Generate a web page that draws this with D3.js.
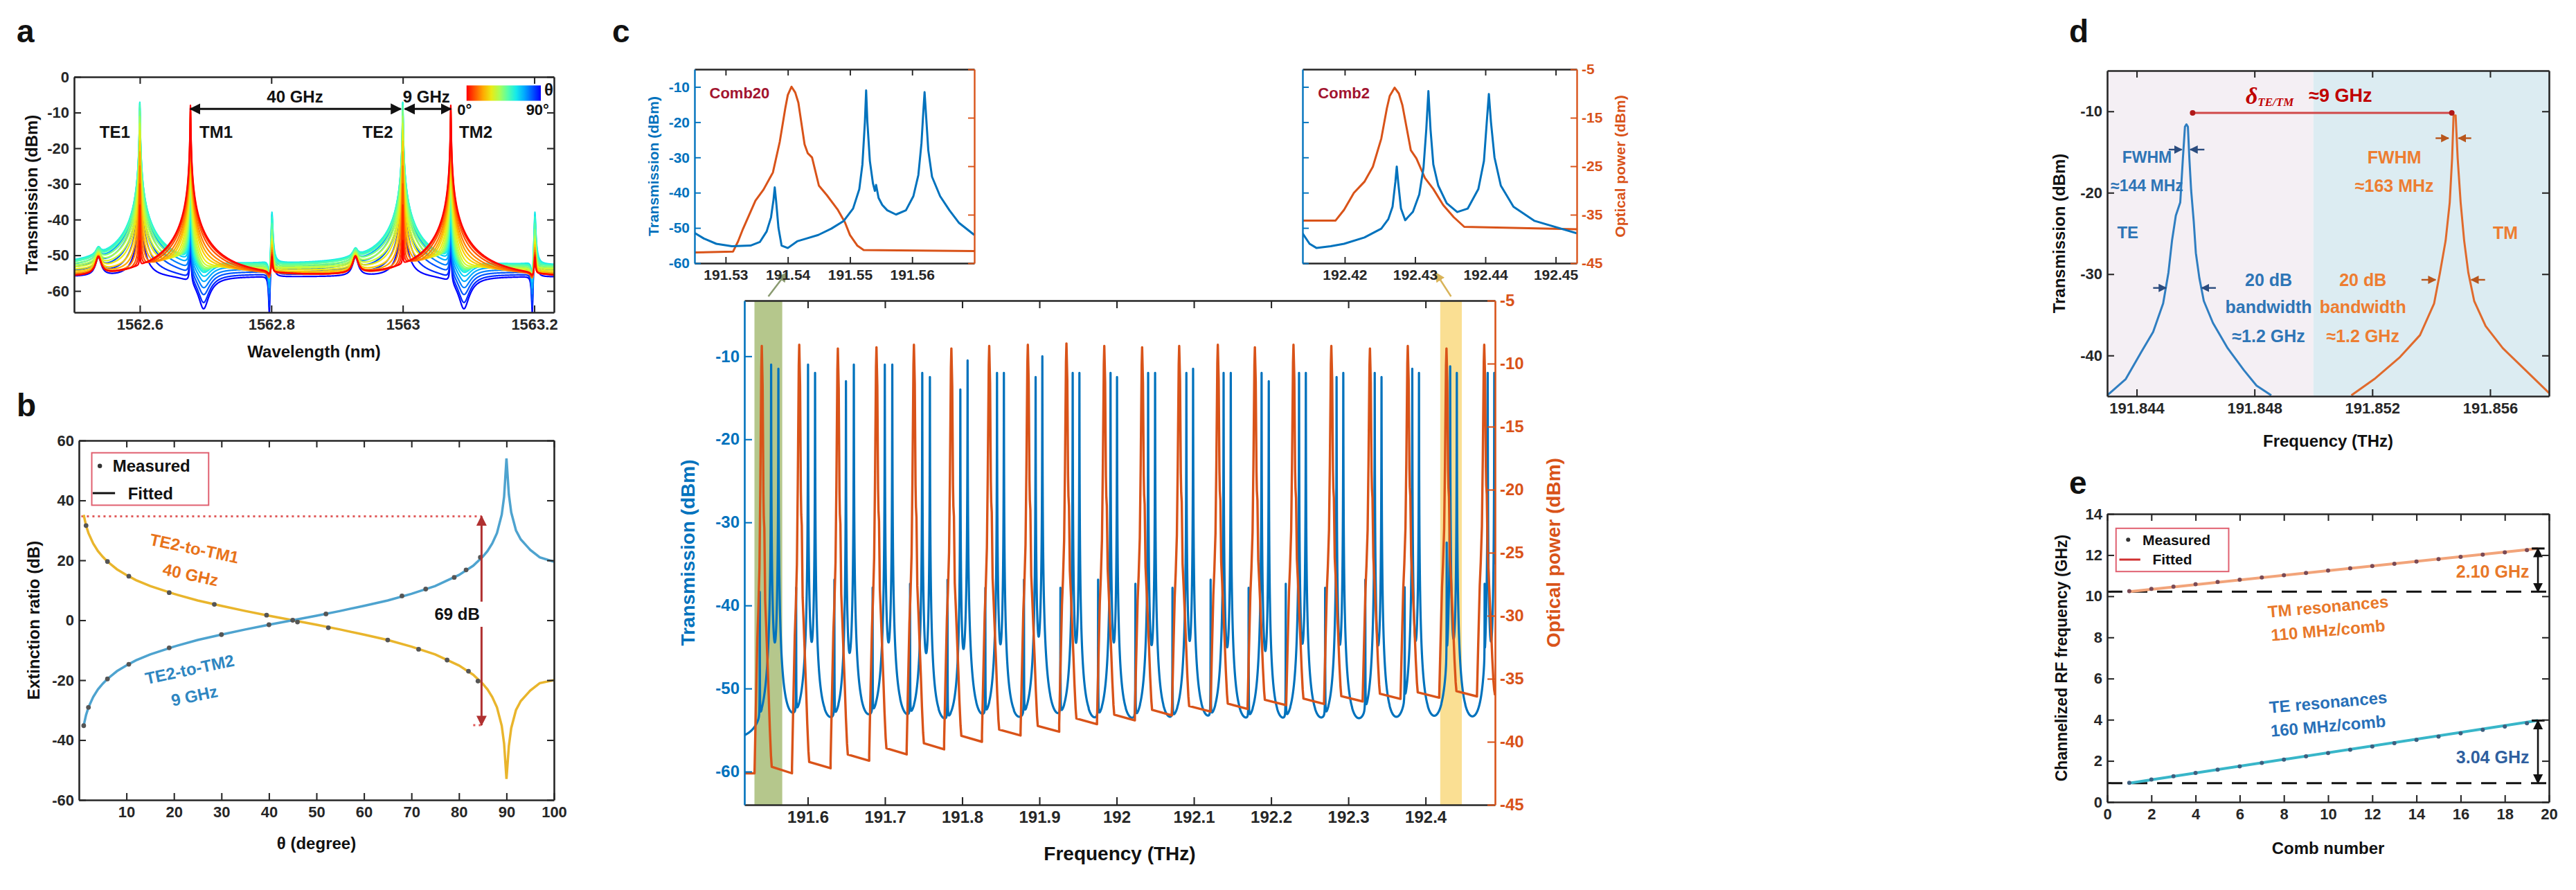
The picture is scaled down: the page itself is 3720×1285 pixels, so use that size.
<!DOCTYPE html>
<html>
<head>
<meta charset="utf-8">
<script src="https://cdn.jsdelivr.net/npm/d3@7/dist/d3.min.js"></script>
<style>
html,body{margin:0;padding:0;background:#ffffff;}
svg{display:block;}
</style>
</head>
<body>
<svg id="fig" width="3720" height="1285" xmlns="http://www.w3.org/2000/svg"></svg>
<script>
// ================= DATA =================
// ---- panel a : polarisation-angle sweep (resonance parameters)
const aTheta   = [0,5,10,15,20,25,30,35,40,45,50,55,60,65,70,75,80,85,90];
const aTEpeak  = [-47,-36,-30,-25,-21,-18,-15,-13,-11,-9.5,-8,-7.2,-7,-7.3,-8.5,-10.5,-13,-17,-22];
const aTMpeak  = [-8,-8.5,-9.5,-11,-12.5,-14,-16,-18,-20,-22,-24,-26,-28,-30,-32,-34,-36,-38,-40];
const aFloor   = [-57,-56.8,-56.5,-56,-55.5,-55,-54.5,-54,-53.8,-53.5,-53.3,-53.2,-53,-53.5,-54,-54.5,-55,-55.5,-56];
const aTMdip   = [0,0.05,0.1,0.15,0.2,0.25,0.3,0.35,0.4,0.45,0.5,0.55,0.6,0.65,0.7,0.75,0.8,0.85,0.88];
const aFanoPk  = [-52,-51,-50,-49,-48,-47,-46,-45,-44,-42,-40,-38,-36.5,-37,-38,-39,-40,-41,-42];
const aFanoDip = [0.2,0.25,0.3,0.35,0.4,0.45,0.5,0.55,0.6,0.65,0.7,0.75,0.8,0.85,0.88,0.9,0.92,0.94,0.95];
const aTEwl    = [1562.600, 1563.000];
const aTMwl    = [1562.677, 1563.073];
const aFanoWl  = [1562.801, 1563.201];
const aBumpWl  = [1562.537, 1562.928];
const aXTicks  = [1562.6, 1562.8, 1563, 1563.2];
const aYTicks  = [0,-10,-20,-30,-40,-50,-60];

// ---- panel b : extinction ratio vs theta
const bFitTheta = [1,1.5,2,3,4,5,6,8,10,12,15,20,25,30,35,40,45,50,55,60,65,70,75,80,83,85,86,87,88,89,89.5,90,90.5,91,92,93,95,97,100];
const bFitTM2   = [-35.2,-31.6,-29.1,-25.6,-23.1,-21.2,-19.6,-17.0,-15.1,-13.4,-11.4,-8.8,-6.6,-4.8,-3.1,-1.5,0,1.5,3.1,4.8,6.6,8.8,11.4,15.1,18.2,21.2,23.1,25.6,29.1,35.2,41.2,54,42,36,30,27,23.5,21,19.5];
const bFitTM1   = [35.2,31.6,29.1,25.6,23.1,21.2,19.6,17.0,15.1,13.4,11.4,8.8,6.6,4.8,3.1,1.5,0,-1.5,-3.1,-4.8,-6.6,-8.8,-11.4,-15.1,-18.2,-21.2,-23.1,-25.6,-29.1,-35.2,-41.2,-53,-42,-36,-30,-27,-23.5,-21,-20];
const bMeasThetaTM2 = [1,2,6,10.5,19,30,40,45,52,68,73,79,81.5,84.5];
const bMeasTM2      = [-35.2,-29.1,-19.6,-14.7,-9.2,-4.8,-1.5,0,2.1,8.1,10.4,14.3,16.8,21.0];
const bMeasThetaTM1 = [1.5,6,10.5,19,28.5,39.5,46,52.5,65,71.5,77.5,82,84];
const bMeasTM1      = [31.6,19.6,14.7,9.2,5.3,1.7,-0.6,-2.5,-6.6,-9.7,-13.3,-17.0,-20.3];
const bXTicks = [10,20,30,40,50,60,70,80,90,100];
const bYTicks = [-60,-40,-20,0,20,40,60];

// ---- panel c : comb lines / microring resonances
const cComb  = [191.5405,191.5890,191.6390,191.6890,191.7375,191.7860,191.8350,191.8850,191.9350,191.9840,192.0330,192.0810,192.1310,192.1790,192.2290,192.2780,192.3280,192.3770,192.4271,192.4760];
const cOff1  = [0.0121,0.0114,0.0105,0.0108,0.0108,0.0116,0.0101,0.0101,0.0081,0.0081,0.0078,0.0093,0.0075,0.0087,0.0072,0.0068,0.0062,0.0058,0.0048,0.0045];
const cOff2  = [0.0215,0.0205,0.0207,0.0205,0.0207,0.0210,0.0190,0.0188,0.0168,0.0165,0.0168,0.0180,0.0168,0.0180,0.0160,0.0155,0.0150,0.0145,0.0134,0.0130];
const cOffS  = [-0.0026,-0.0040,-0.0045,-0.0050,-0.0050,-0.0050,-0.0050,-0.0050,-0.0078,-0.0080,-0.0087,-0.0087,-0.0093,-0.0081,-0.0100,-0.0080,-0.0060,-0.0040,0.0003,0.0005];
const cH1    = [-11.0,-11,-13,-11,-12,-14,-12,-12.5,-12,-12,-12,-12,-12,-12,-12,-12.5,-12,-11.5,-11.2,-12];
const cH2    = [-11.5,-12,-11,-11,-12.5,-10.5,-12,-10,-12,-12.5,-12,-11.5,-12,-13,-12,-12,-12.5,-12,-12,-12];
const cHS    = [-38.5,-38,-37,-38,-37.5,-37,-38,-37,-38,-37,-37.5,-38,-37,-38,-37.5,-38,-37,-38,-32.6,-38];
const cFloorO= [-42.5,-42.1,-41.5,-41.0,-40.6,-40.0,-39.5,-39.2,-38.6,-38.3,-37.9,-37.6,-37.4,-37.1,-37.0,-36.8,-36.6,-36.5,-36.4,-36.3];
const cPeakO = [-8.6,-8.5,-8.8,-8.7,-8.5,-8.8,-8.6,-8.5,-8.4,-8.6,-8.7,-8.6,-8.5,-8.7,-8.5,-8.6,-8.8,-8.6,-8.8,-8.5];
const cTplOff  = [-0.0094,-0.0078,-0.0058,-0.0045,-0.0030,-0.0019,-0.0006,0,0.0011,0.0021,0.0026,0.0033,0.0044,0.0057,0.0074,0.0090,0.0104,0.0119,0.0129];
const cTplFrac = [0,0.143,0.313,0.380,0.482,0.667,0.950,1,0.904,0.652,0.599,0.573,0.404,0.345,0.260,0.181,0.105,0.041,0.015];
const cXTicks  = [191.6,191.7,191.8,191.9,192,192.1,192.2,192.3,192.4];
const cYTicks  = [-10,-20,-30,-40,-50,-60];
const cYRTicks = [-5,-10,-15,-20,-25,-30,-35,-40,-45];
// insets (Comb20 / Comb2)
const i1Blue = [[191.5250,-51.4],[191.5265,-53.0],[191.5285,-54.5],[191.5310,-55.2],[191.5340,-55.0],[191.5355,-54.0],[191.5366,-51.0],[191.5373,-47.0],[191.5377,-42],[191.5379,-38.5],[191.5381,-42],[191.5385,-50],[191.5390,-55.0],[191.5400,-55.7],[191.5415,-53.8],[191.5430,-53.0],[191.5449,-52.0],[191.5470,-50.2],[191.5490,-48.0],[191.5505,-44.5],[191.5515,-39.0],[191.5520,-32.0],[191.5524,-20.0],[191.5526,-11.0],[191.5528,-20.0],[191.5532,-31.0],[191.5537,-37.4],[191.5540,-39.5],[191.5542,-37.8],[191.5546,-41.5],[191.5552,-43.5],[191.5560,-45.0],[191.5574,-46.2],[191.5590,-45.0],[191.5602,-41.0],[191.5610,-35.0],[191.5615,-26.0],[191.5618,-17.0],[191.5620,-11.5],[191.5622,-17.0],[191.5626,-28.0],[191.5632,-35.5],[191.5645,-41.0],[191.5660,-45.0],[191.5675,-48.5],[191.5700,-52.0]];
const i1Orange = [[191.5250,-42.8],[191.5312,-42.6],[191.5320,-40.5],[191.5328,-37.9],[191.5348,-32.1],[191.5361,-29.8],[191.5376,-26.3],[191.5387,-20.0],[191.5396,-13.0],[191.5400,-10.3],[191.5406,-8.6],[191.5412,-9.8],[191.5417,-11.9],[191.5427,-20.5],[191.5432,-22.3],[191.5439,-23.2],[191.5450,-29.0],[191.5463,-31.0],[191.5480,-33.9],[191.5492,-36.6],[191.5500,-39.2],[191.5512,-41.4],[191.5522,-42.3],[191.5700,-42.5]];
const i2Blue = [[192.4140,-51.5],[192.4150,-54.5],[192.4160,-55.7],[192.4180,-55.2],[192.4199,-54.5],[192.4228,-52.7],[192.4252,-50.2],[192.4262,-47.5],[192.4268,-44],[192.4272,-37],[192.4274,-32.6],[192.4276,-37],[192.4280,-44.5],[192.4286,-47.8],[192.4297,-45.4],[192.4306,-40.5],[192.4312,-33],[192.4316,-22],[192.4319,-11.2],[192.4322,-22],[192.4326,-32],[192.4333,-38],[192.4345,-43],[192.4360,-45.5],[192.4375,-44.5],[192.4390,-39],[192.4398,-31],[192.4402,-20],[192.4405,-12.0],[192.4408,-20],[192.4413,-30],[192.4422,-38],[192.4440,-44],[192.4470,-48],[192.4530,-51.5]];
const i2Orange = [[192.4140,-36.2],[192.4187,-36.2],[192.4199,-34.0],[192.4213,-30.5],[192.4228,-28.2],[192.4240,-25.1],[192.4252,-19.3],[192.4260,-13.0],[192.4264,-10.5],[192.4271,-8.8],[192.4277,-10.0],[192.4282,-12.4],[192.4294,-21.7],[192.4302,-23.4],[192.4314,-27.4],[192.4326,-29.7],[192.4340,-33.0],[192.4355,-35.5],[192.4370,-37.5],[192.4530,-38.0]];
const i1XTicks = [191.53,191.54,191.55,191.56];
const i2XTicks = [192.42,192.43,192.44,192.45];
const iYTicks  = [-10,-20,-30,-40,-50,-60];
const iYRTicks = [-5,-15,-25,-35,-45];

// ---- panel d : single TE / TM resonance
const dTE = [[191.8430,-44.9],[191.84363,-42.9],[191.84412,-39.8],[191.84456,-37.1],[191.8449,-33.6],[191.84508,-29.8],[191.8452,-25.9],[191.84533,-22.8],[191.84548,-21.2],[191.84557,-15.8],[191.84564,-11.9],[191.84569,-11.6],[191.84574,-11.9],[191.84579,-15.8],[191.84585,-19.7],[191.84594,-23.6],[191.84601,-27.4],[191.84613,-30.5],[191.84628,-33.3],[191.84659,-36.0],[191.84709,-39.1],[191.84764,-41.8],[191.84807,-43.7],[191.84857,-44.9]];
const dTM = [[191.85129,-44.9],[191.85207,-42.9],[191.85294,-40.2],[191.85362,-37.5],[191.8541,-33.6],[191.8543,-29.8],[191.85449,-25.9],[191.85463,-21.2],[191.85471,-15.8],[191.85476,-10.5],[191.85483,-10.5],[191.8549,-15.8],[191.855,-21.2],[191.85512,-25.9],[191.85526,-29.8],[191.85546,-33.3],[191.85585,-36.4],[191.85643,-39.1],[191.8572,-41.8],[191.85800,-44.6]];
const dXTicks = [191.844,191.848,191.852,191.856];
const dYTicks = [-10,-20,-30,-40];

// ---- panel e : channelised RF frequency vs comb number
const eComb = [1,2,3,4,5,6,7,8,9,10,11,12,13,14,15,16,17,18,19];
const eTE   = [0.93,1.09,1.25,1.41,1.57,1.73,1.90,2.06,2.22,2.38,2.54,2.70,2.86,3.02,3.18,3.34,3.51,3.67,3.83];
const eTM   = [10.25,10.36,10.47,10.58,10.69,10.80,10.91,11.02,11.13,11.25,11.36,11.47,11.58,11.69,11.80,11.91,12.02,12.13,12.24];
const eFitX = [1, 19.5];
const eFitTE = [0.92, 3.96];
const eFitTM = [10.22, 12.32];
const eXTicks = [0,2,4,6,8,10,12,14,16,18,20];
const eYTicks = [0,2,4,6,8,10,12,14];

// ================= DRAWING =================
const FONT = '"Liberation Sans", Arial, Helvetica, sans-serif';
const BLUE = "#0072BD", ORANGE = "#D95319", AX = "#262626";
const svg = d3.select("#fig");
const defs = svg.append("defs");
svg.append("rect").attr("width",3720).attr("height",1285).attr("fill","#fff");

function marker(id, color, size){
  defs.append("marker").attr("id",id).attr("viewBox","0 0 10 10").attr("refX",9).attr("refY",5)
    .attr("markerWidth",size).attr("markerHeight",size).attr("markerUnits","userSpaceOnUse")
    .attr("orient","auto-start-reverse")
    .append("path").attr("d","M0,0 L10,5 L0,10 z").attr("fill",color);
}
marker("arrK","#111",16); marker("arrR","#B03030",15); marker("arrB","#2B4C7E",12);
marker("arrO","#B8561C",12); marker("arrG","#8A9A70",14); marker("arrY","#D9B45A",14); marker("arrE","#111",14);

let clipN = 0;
function clip(box){
  const id = "clp"+(clipN++);
  defs.append("clipPath").attr("id",id).append("rect").attr("x",box.l).attr("y",box.t).attr("width",box.r-box.l).attr("height",box.b-box.t);
  return `url(#${id})`;
}
function T(g, x, y, s, o = {}){
  const t = g.append("text").attr("x",x).attr("y",y)
    .attr("font-family", o.family || FONT).attr("font-weight", o.weight || "bold")
    .attr("font-size", o.fs || 22).attr("fill", o.fill || "#111")
    .attr("text-anchor", o.anchor || "middle").attr("dominant-baseline", o.base || "central").text(s);
  if (o.rot) t.attr("transform", `rotate(${o.rot},${x},${y})`);
  return t;
}
const num = d => String(+(+d).toFixed(4));
function axes(g, x, y, o){
  const fs = o.fs || 22, tl = o.tl || 10, sw = o.sw || 2.6;
  const [l, r] = x.range(); const [b, t] = y.range();
  const st = (sel, col) => {
    sel.attr("font-size",fs).attr("font-family",FONT).attr("font-weight","bold").attr("color",col);
    sel.selectAll("path.domain").attr("stroke-width",sw);
    sel.selectAll(".tick line").attr("stroke-width",sw*0.8);
    return sel;
  };
  const kx = o.xColor || AX, kl = o.leftColor || AX, kr = o.rightColor || kl;
  st(g.append("g").attr("transform",`translate(0,${b})`).call(d3.axisBottom(x).tickValues(o.xTicks).tickFormat(o.noX ? () => "" : num).tickSizeInner(-tl).tickSizeOuter(0).tickPadding(o.xPad || 9)), kx);
  st(g.append("g").attr("transform",`translate(0,${t})`).call(d3.axisTop(x).tickValues(o.xTicks).tickFormat(() => "").tickSizeInner(-tl).tickSizeOuter(0)), kx);
  st(g.append("g").attr("transform",`translate(${l},0)`).call(d3.axisLeft(y).tickValues(o.yTicks).tickFormat(o.noY ? () => "" : num).tickSizeInner(-tl).tickSizeOuter(0).tickPadding(7)), kl);
  if (o.yR) st(g.append("g").attr("transform",`translate(${r},0)`).call(d3.axisRight(o.yR).tickValues(o.yRTicks).tickFormat(o.noYR ? () => "" : num).tickSizeInner(-tl).tickSizeOuter(0).tickPadding(7)), kr);
  else st(g.append("g").attr("transform",`translate(${r},0)`).call(d3.axisRight(y).tickValues(o.yTicks).tickFormat(() => "").tickSizeInner(-tl).tickSizeOuter(0)), kr);
}
const P = v => Math.pow(10, v/10);
const lor = (x, x0, g) => { const u = (x - x0)/g; return 1/(1 + u*u); };

// layout boxes
const boxA  = {l:107,  t:111, r:800,  b:451};
const boxB  = {l:114,  t:636, r:800,  b:1155};
const boxI1 = {l:1003, t:100, r:1407, b:380};
const boxI2 = {l:1881, t:100, r:2277, b:380};
const boxC  = {l:1075, t:434, r:2159, b:1162};
const boxD  = {l:3043, t:102, r:3681, b:572};
const boxE  = {l:3043, t:742, r:3681, b:1158};

// panel letters
[["a",24,45],["b",24,585],["c",884,45],["d",2988,45],["e",2988,697]].forEach(([s,x,y]) =>
  T(svg, x, y, s, {fs:46, anchor:"start"}));

// ---------------- panel a ----------------
{
  const g = svg.append("g");
  const x = d3.scaleLinear().domain([1562.5, 1563.23]).range([boxA.l, boxA.r]);
  const y = d3.scaleLinear().domain([-66, 0]).range([boxA.b, boxA.t]);
  const col = d3.scaleSequential(d3.interpolateRgbBasis(["#ff0000","#ff7f00","#ffff00","#7fff7f","#00ffff","#007fff","#0000ff"])).domain([0, 90]);
  const gc = g.append("g").attr("clip-path", clip(boxA));
  const grid = d3.range(0, 1826).map(i => 1562.5 + i*0.0004).concat(aTEwl, aTMwl, aFanoWl).sort((p,q) => p-q);
  const val = (i, l) => {
    let lin = P(aFloor[i]);
    aTEwl.forEach(w => lin += P(aTEpeak[i]) * lor(l, w, 0.00035));
    aTMwl.forEach(w => lin += P(aTMpeak[i]) * lor(l, w, 0.00035));
    aBumpWl.forEach(w => lin += P(-52) * lor(l, w, 0.004));
    aFanoWl.forEach(w => lin += P(aFanoPk[i]) * lor(l, w, 0.0008));
    aTMwl.forEach(w => lin *= (1 - aTMdip[i] * lor(l, w + 0.02, 0.018)));
    aFanoWl.forEach(w => lin *= (1 - aFanoDip[i] * lor(l, w - 0.004, 0.003)));
    return 10*Math.log10(lin);
  };
  const line = d3.line().x(d => x(d[0])).y(d => y(d[1]));
  aTheta.map((th, i) => i).reverse().forEach(i => {
    gc.append("path").datum(grid.map(l => [l, val(i, l)])).attr("d", line)
      .attr("fill","none").attr("stroke", col(aTheta[i])).attr("stroke-width", 2.2).attr("stroke-linejoin","round");
  });
  axes(g, x, y, {xTicks:aXTicks, yTicks:aYTicks});
  const gid = "cbar";
  const lg = defs.append("linearGradient").attr("id", gid);
  d3.range(0, 91, 10).forEach(v => lg.append("stop").attr("offset", (v/90*100)+"%").attr("stop-color", col(v)));
  g.append("rect").attr("x", x(1563.097)).attr("y", y(-2.4)).attr("width", x(1563.21)-x(1563.097)).attr("height", y(-6.7)-y(-2.4)).attr("fill", `url(#${gid})`);
  T(g, x(1563.222), y(-3.6), "θ", {fs:24});
  T(g, x(1563.094), y(-9.3), "0°", {fs:22});
  T(g, x(1563.205), y(-9.3), "90°", {fs:22});
  g.append("line").attr("x1", x(aTMwl[0])).attr("x2", x(aTEwl[1])-3).attr("y1", y(-9)).attr("y2", y(-9))
    .attr("stroke","#111").attr("stroke-width",3).attr("marker-start","url(#arrK)").attr("marker-end","url(#arrK)");
  g.append("line").attr("x1", x(aTEwl[1])+3).attr("x2", x(aTMwl[1])).attr("y1", y(-9)).attr("y2", y(-9))
    .attr("stroke","#111").attr("stroke-width",3).attr("marker-start","url(#arrK)").attr("marker-end","url(#arrK)");
  T(g, x(1562.836), y(-5.6), "40 GHz", {fs:24});
  T(g, x(1563.036), y(-5.6), "9 GHz", {fs:24});
  T(g, x(1562.562), y(-15.5), "TE1", {fs:24});
  T(g, x(1562.716), y(-15.5), "TM1", {fs:24});
  T(g, x(1562.962), y(-15.5), "TE2", {fs:24});
  T(g, x(1563.111), y(-15.5), "TM2", {fs:24});
  T(g, boxA.l-62, (boxA.t+boxA.b)/2, "Transmission (dBm)", {fs:24, rot:-90});
  T(g, (boxA.l+boxA.r)/2, boxA.b+56, "Wavelength (nm)", {fs:24});
}

// ---------------- panel b ----------------
{
  const g = svg.append("g");
  const x = d3.scaleLinear().domain([0, 100]).range([boxB.l, boxB.r]);
  const y = d3.scaleLinear().domain([-60, 60]).range([boxB.b, boxB.t]);
  const gc = g.append("g").attr("clip-path", clip(boxB));
  const line = d3.line().x(d => x(d[0])).y(d => y(d[1]));
  gc.append("line").attr("x1", x(0.5)).attr("x2", x(84.75)).attr("y1", y(34.7)).attr("y2", y(34.7))
    .attr("stroke","#E05A5A").attr("stroke-width",3).attr("stroke-dasharray","3,5");
  gc.append("line").attr("x1", x(83)).attr("x2", x(84.75)).attr("y1", y(-35)).attr("y2", y(-35))
    .attr("stroke","#E05A5A").attr("stroke-width",3).attr("stroke-dasharray","3,5");
  gc.append("path").datum(bFitTheta.map((t,i) => [t, bFitTM1[i]])).attr("d", line).attr("fill","none").attr("stroke","#E9B52C").attr("stroke-width",3.5);
  gc.append("path").datum(bFitTheta.map((t,i) => [t, bFitTM2[i]])).attr("d", line).attr("fill","none").attr("stroke","#4EA3CF").attr("stroke-width",3.5);
  gc.selectAll("circle.m1").data(bMeasThetaTM1).enter().append("circle").attr("cx", d => x(d)).attr("cy", (d,i) => y(bMeasTM1[i])).attr("r",3.4).attr("fill","#555");
  gc.selectAll("circle.m2").data(bMeasThetaTM2).enter().append("circle").attr("cx", d => x(d)).attr("cy", (d,i) => y(bMeasTM2[i])).attr("r",3.4).attr("fill","#555");
  g.append("line").attr("x1", x(84.75)).attr("x2", x(84.75)).attr("y1", y(34.7)).attr("y2", y(-35))
    .attr("stroke","#B03030").attr("stroke-width",3).attr("marker-start","url(#arrR)").attr("marker-end","url(#arrR)");
  g.append("rect").attr("x", x(73.6)).attr("y", y(6.2)).attr("width", x(85.6)-x(73.6)).attr("height", y(-2.2)-y(6.2)).attr("fill","#fff");
  T(g, x(79.6), y(2), "69 dB", {fs:24});
  axes(g, x, y, {xTicks:bXTicks, yTicks:bYTicks});
  g.append("rect").attr("x", x(2.7)).attr("y", y(55.9)).attr("width", x(27.3)-x(2.7)).attr("height", y(38.4)-y(55.9))
    .attr("fill","#fff").attr("stroke","#E06070").attr("stroke-width",2);
  g.append("circle").attr("cx", x(4.4)).attr("cy", y(51.5)).attr("r",3.2).attr("fill","#333");
  T(g, x(7.1), y(51.5), "Measured", {fs:24, anchor:"start"});
  g.append("line").attr("x1", x(2.9)).attr("x2", x(7.6)).attr("y1", y(42.4)).attr("y2", y(42.4)).attr("stroke","#111").attr("stroke-width",3);
  T(g, x(10.3), y(42.4), "Fitted", {fs:24, anchor:"start"});
  T(g, x(24.3), y(24.0), "TE2-to-TM1", {fs:24, fill:"#E8731A", rot:12});
  T(g, x(23.5), y(15.2), "40 GHz", {fs:24, fill:"#E8731A", rot:12});
  T(g, x(23.3), y(-16.4), "TE2-to-TM2", {fs:24, fill:"#2E86C1", rot:-12});
  T(g, x(24.3), y(-25.2), "9 GHz", {fs:24, fill:"#2E86C1", rot:-12});
  T(g, boxB.l-66, (boxB.t+boxB.b)/2, "Extinction ratio (dB)", {fs:24, rot:-90});
  T(g, (boxB.l+boxB.r)/2, boxB.b+62, "θ (degree)", {fs:24});
}

// ---------------- panel c : main ----------------
{
  const g = svg.append("g");
  const x = d3.scaleLinear().domain([191.518, 192.49]).range([boxC.l, boxC.r]);
  const y = d3.scaleLinear().domain([-64, -3.3]).range([boxC.b, boxC.t]);
  const yR = d3.scaleLinear().domain([-45, -5]).range([boxC.b, boxC.t]);
  const gc = g.append("g").attr("clip-path", clip(boxC));
  gc.append("rect").attr("x", x(191.531)).attr("y", boxC.t).attr("width", x(191.567)-x(191.531)).attr("height", boxC.b-boxC.t).attr("fill","#B5C78C");
  gc.append("rect").attr("x", x(192.419)).attr("y", boxC.t).attr("width", x(192.447)-x(192.419)).attr("height", boxC.b-boxC.t).attr("fill","#FADF93");
  const peaks = [];
  cComb.forEach((c, k) => { peaks.push([c+cOff1[k], cH1[k], 0.00007], [c+cOff2[k], cH2[k], 0.00007], [c+cOffS[k], cHS[k], 0.00005]); });
  const grid = d3.range(0, 24301).map(i => 191.518 + i*0.00004).concat(peaks.map(p => p[0])).sort((p,q) => p-q);
  const blue = grid.map(f => {
    let lin = P(-56.5);
    peaks.forEach(p => { if (Math.abs(f - p[0]) < 0.06) lin += P(p[1]) * lor(f, p[0], p[2]); });
    return [f, 10*Math.log10(lin)];
  });
  gc.append("path").datum(blue).attr("d", d3.line().x(d => x(d[0])).y(d => y(d[1])))
    .attr("fill","none").attr("stroke", BLUE).attr("stroke-width",3.2).attr("stroke-linejoin","round");
  const orange = [[191.518, cFloorO[0]]];
  cComb.forEach((c, k) => {
    cTplOff.forEach((o, i) => orange.push([c + o, cFloorO[k] + cTplFrac[i]*(cPeakO[k]-cFloorO[k])]));
    orange.push([k < cComb.length-1 ? cComb[k+1] + cTplOff[0] : 192.49, cFloorO[k]]);
  });
  gc.append("path").datum(orange).attr("d", d3.line().x(d => x(d[0])).y(d => yR(d[1])))
    .attr("fill","none").attr("stroke", ORANGE).attr("stroke-width",3.4).attr("stroke-linejoin","round");
  axes(g, x, y, {xTicks:cXTicks, yTicks:cYTicks, yR:yR, yRTicks:cYRTicks, leftColor:BLUE, rightColor:ORANGE, fs:24, tl:11});
  T(g, boxC.l-82, (boxC.t+boxC.b)/2, "Transmission (dBm)", {fs:28, fill:BLUE, rot:-90});
  T(g, boxC.r+84, (boxC.t+boxC.b)/2, "Optical power (dBm)", {fs:28, fill:ORANGE, rot:-90});
  T(g, (boxC.l+boxC.r)/2, boxC.b+70, "Frequency (THz)", {fs:28});
  g.append("line").attr("x1", x(191.549)).attr("y1", boxC.t-6).attr("x2", x(191.549)+26).attr("y2", boxC.t-40)
    .attr("stroke","#8A9A70").attr("stroke-width",2.5).attr("marker-end","url(#arrG)");
  g.append("line").attr("x1", x(192.433)).attr("y1", boxC.t-6).attr("x2", x(192.433)-22).attr("y2", boxC.t-40)
    .attr("stroke","#D9B45A").attr("stroke-width",2.5).attr("marker-end","url(#arrY)");
}

// ---------------- panel c : insets ----------------
function inset(box, xDom, xTicks, bl, or, label, labX, leftLabels){
  const g = svg.append("g");
  const x = d3.scaleLinear().domain(xDom).range([box.l, box.r]);
  const y = d3.scaleLinear().domain([-60, -5]).range([box.b, box.t]);
  const yR = d3.scaleLinear().domain([-45, -5]).range([box.b, box.t]);
  const gc = g.append("g").attr("clip-path", clip(box));
  gc.append("path").datum(or).attr("d", d3.line().x(d => x(d[0])).y(d => yR(d[1])))
    .attr("fill","none").attr("stroke", ORANGE).attr("stroke-width",3).attr("stroke-linejoin","round");
  gc.append("path").datum(bl).attr("d", d3.line().x(d => x(d[0])).y(d => y(d[1])))
    .attr("fill","none").attr("stroke", BLUE).attr("stroke-width",3).attr("stroke-linejoin","round");
  axes(g, x, y, {xTicks, yTicks:iYTicks, yR, yRTicks:iYRTicks, leftColor:BLUE, rightColor:ORANGE, noY:!leftLabels, noYR:leftLabels, fs:21, tl:9, sw:2.4});
  T(g, x(labX), y(-11.8), label, {fs:22, fill:"#A2142F", anchor:"start"});
  return g;
}
{
  const g1 = inset(boxI1, [191.525, 191.57], i1XTicks, i1Blue, i1Orange, "Comb20", 191.5274, true);
  T(g1, boxI1.l-60, (boxI1.t+boxI1.b)/2, "Transmission (dBm)", {fs:21, fill:BLUE, rot:-90});
  const g2 = inset(boxI2, [192.414, 192.453], i2XTicks, i2Blue, i2Orange, "Comb2", 192.4162, false);
  T(g2, boxI2.r+62, (boxI2.t+boxI2.b)/2, "Optical power (dBm)", {fs:21, fill:ORANGE, rot:-90});
}

// ---------------- panel d ----------------
{
  const g = svg.append("g");
  const x = d3.scaleLinear().domain([191.843, 191.858]).range([boxD.l, boxD.r]);
  const y = d3.scaleLinear().domain([-45, -5]).range([boxD.b, boxD.t]);
  g.append("rect").attr("x", boxD.l).attr("y", boxD.t).attr("width", x(191.850)-boxD.l).attr("height", boxD.b-boxD.t).attr("fill","#F4EFF4");
  g.append("rect").attr("x", x(191.850)).attr("y", boxD.t).attr("width", boxD.r-x(191.850)).attr("height", boxD.b-boxD.t).attr("fill","#DCECF2");
  const gc = g.append("g").attr("clip-path", clip(boxD));
  const line = d3.line().x(d => x(d[0])).y(d => y(d[1]));
  gc.append("path").datum(dTE).attr("d", line).attr("fill","none").attr("stroke","#2F7EC1").attr("stroke-width",3).attr("stroke-linejoin","round");
  gc.append("path").datum(dTM).attr("d", line).attr("fill","none").attr("stroke","#E06A2C").attr("stroke-width",3).attr("stroke-linejoin","round");
  g.append("line").attr("x1", x(191.8459)).attr("x2", x(191.8547)).attr("y1", y(-10.2)).attr("y2", y(-10.2)).attr("stroke","#D04848").attr("stroke-width",3);
  [191.8459, 191.8547].forEach(v => g.append("circle").attr("cx", x(v)).attr("cy", y(-10.2)).attr("r",4).attr("fill","#B01818"));
  const dt = g.append("text").attr("x", x(191.8477)).attr("y", y(-8.1)).attr("font-family",FONT).attr("font-weight","bold").attr("font-size",27).attr("fill","#C00000").attr("dominant-baseline","central");
  dt.append("tspan").attr("font-family","Liberation Serif").attr("font-style","italic").attr("font-size",34).text("δ");
  dt.append("tspan").attr("font-family","Liberation Serif").attr("font-style","italic").attr("font-size",17).attr("dy",9).text("TE/TM");
  dt.append("tspan").attr("dy",-9).attr("dx",22).text("≈9 GHz");
  const arr = (a, b2, v, m, c) => g.append("line").attr("x1", x(a)).attr("x2", x(b2)).attr("y1", y(v)).attr("y2", y(v)).attr("stroke", c).attr("stroke-width",2.4).attr("marker-end", `url(#${m})`);
  arr(191.84509, 191.84553, -14.7, "arrB", "#2B4C7E"); arr(191.8463, 191.84582, -14.7, "arrB", "#2B4C7E");
  arr(191.84456, 191.84500, -31.7, "arrB", "#2B4C7E"); arr(191.84669, 191.84621, -31.7, "arrB", "#2B4C7E");
  arr(191.85415, 191.85459, -13.3, "arrO", "#B8561C"); arr(191.85536, 191.85493, -13.3, "arrO", "#B8561C");
  arr(191.85367, 191.85415, -30.7, "arrO", "#B8561C"); arr(191.85583, 191.85536, -30.7, "arrO", "#B8561C");
  const TB = "#2E75B6", TO = "#ED7D31";
  T(g, x(191.84435), y(-15.6), "FWHM", {fs:23, fill:TB});
  T(g, x(191.84435), y(-19.1), "≈144 MHz", {fs:23, fill:TB});
  T(g, x(191.8437), y(-24.9), "TE", {fs:24, fill:TB});
  T(g, x(191.84848), y(-30.7), "20 dB", {fs:25, fill:TB});
  T(g, x(191.84848), y(-34.0), "bandwidth", {fs:25, fill:TB});
  T(g, x(191.84848), y(-37.6), "≈1.2 GHz", {fs:25, fill:TB});
  T(g, x(191.85168), y(-30.7), "20 dB", {fs:25, fill:TO});
  T(g, x(191.85168), y(-34.0), "bandwidth", {fs:25, fill:TO});
  T(g, x(191.85168), y(-37.6), "≈1.2 GHz", {fs:25, fill:TO});
  T(g, x(191.85275), y(-15.6), "FWHM", {fs:25, fill:TO});
  T(g, x(191.85275), y(-19.1), "≈163 MHz", {fs:25, fill:TO});
  T(g, x(191.85652), y(-24.9), "TM", {fs:25, fill:TO});
  axes(g, x, y, {xTicks:dXTicks, yTicks:dYTicks});
  T(g, boxD.l-70, (boxD.t+boxD.b)/2, "Transmission (dBm)", {fs:24, rot:-90});
  T(g, (boxD.l+boxD.r)/2, boxD.b+64, "Frequency (THz)", {fs:24});
}

// ---------------- panel e ----------------
{
  const g = svg.append("g");
  const x = d3.scaleLinear().domain([0, 20]).range([boxE.l, boxE.r]);
  const y = d3.scaleLinear().domain([0, 14]).range([boxE.b, boxE.t]);
  const line = d3.line().x(d => x(d[0])).y(d => y(d[1]));
  [eFitTM[0], eFitTE[0]].forEach(v => g.append("line").attr("x1", x(0)).attr("x2", x(20)).attr("y1", y(v)).attr("y2", y(v))
    .attr("stroke","#111").attr("stroke-width",3).attr("stroke-dasharray","22,14"));
  g.append("path").datum(eFitX.map((c,i) => [c, eFitTM[i]])).attr("d", line).attr("stroke","#F2A47A").attr("stroke-width",4).attr("fill","none");
  g.append("path").datum(eFitX.map((c,i) => [c, eFitTE[i]])).attr("d", line).attr("stroke","#38B6C9").attr("stroke-width",4).attr("fill","none");
  g.selectAll("circle.tm").data(eComb).enter().append("circle").attr("cx", d => x(d)).attr("cy", (d,i) => y(eTM[i])).attr("r",3).attr("fill","#7A4A55");
  g.selectAll("circle.te").data(eComb).enter().append("circle").attr("cx", d => x(d)).attr("cy", (d,i) => y(eTE[i])).attr("r",3).attr("fill","#3D5F7F");
  [[eFitTM[0], eFitTM[1]], [eFitTE[0], eFitTE[1]]].forEach(([lo, hi]) => {
    g.append("line").attr("x1", x(19.5)).attr("x2", x(19.5)).attr("y1", y(hi)).attr("y2", y(lo))
      .attr("stroke","#111").attr("stroke-width",2.6).attr("marker-start","url(#arrE)").attr("marker-end","url(#arrE)");
    g.append("line").attr("x1", x(19.22)).attr("x2", x(19.8)).attr("y1", y(hi)).attr("y2", y(hi)).attr("stroke","#111").attr("stroke-width",3);
  });
  T(g, x(17.45), y(11.2), "2.10 GHz", {fs:25, fill:"#E8782A"});
  T(g, x(17.45), y(2.2), "3.04 GHz", {fs:25, fill:"#2F5F9F"});
  T(g, x(10), y(9.5), "TM resonances", {fs:24, fill:"#E8782A", rot:-5});
  T(g, x(10), y(8.35), "110 MHz/comb", {fs:24, fill:"#E8782A", rot:-5});
  T(g, x(10), y(4.85), "TE resonances", {fs:24, fill:"#2870B8", rot:-5});
  T(g, x(10), y(3.7), "160 MHz/comb", {fs:24, fill:"#2870B8", rot:-5});
  g.append("rect").attr("x", x(0.4)).attr("y", y(13.3)).attr("width", x(5.5)-x(0.4)).attr("height", y(11.2)-y(13.3))
    .attr("fill","#fff").attr("stroke","#E06070").attr("stroke-width",2);
  g.append("circle").attr("cx", x(0.95)).attr("cy", y(12.75)).attr("r",3).attr("fill","#333");
  T(g, x(1.6), y(12.75), "Measured", {fs:21, anchor:"start"});
  g.append("line").attr("x1", x(0.55)).attr("x2", x(1.5)).attr("y1", y(11.78)).attr("y2", y(11.78)).attr("stroke","#D03030").attr("stroke-width",3);
  T(g, x(2.05), y(11.78), "Fitted", {fs:21, anchor:"start"});
  axes(g, x, y, {xTicks:eXTicks, yTicks:eYTicks});
  T(g, boxE.l-66, (boxE.t+boxE.b)/2, "Channelized RF frequency (GHz)", {fs:23, rot:-90});
  T(g, (boxE.l+boxE.r)/2, boxE.b+66, "Comb number", {fs:24});
}
</script>
</body>
</html>
